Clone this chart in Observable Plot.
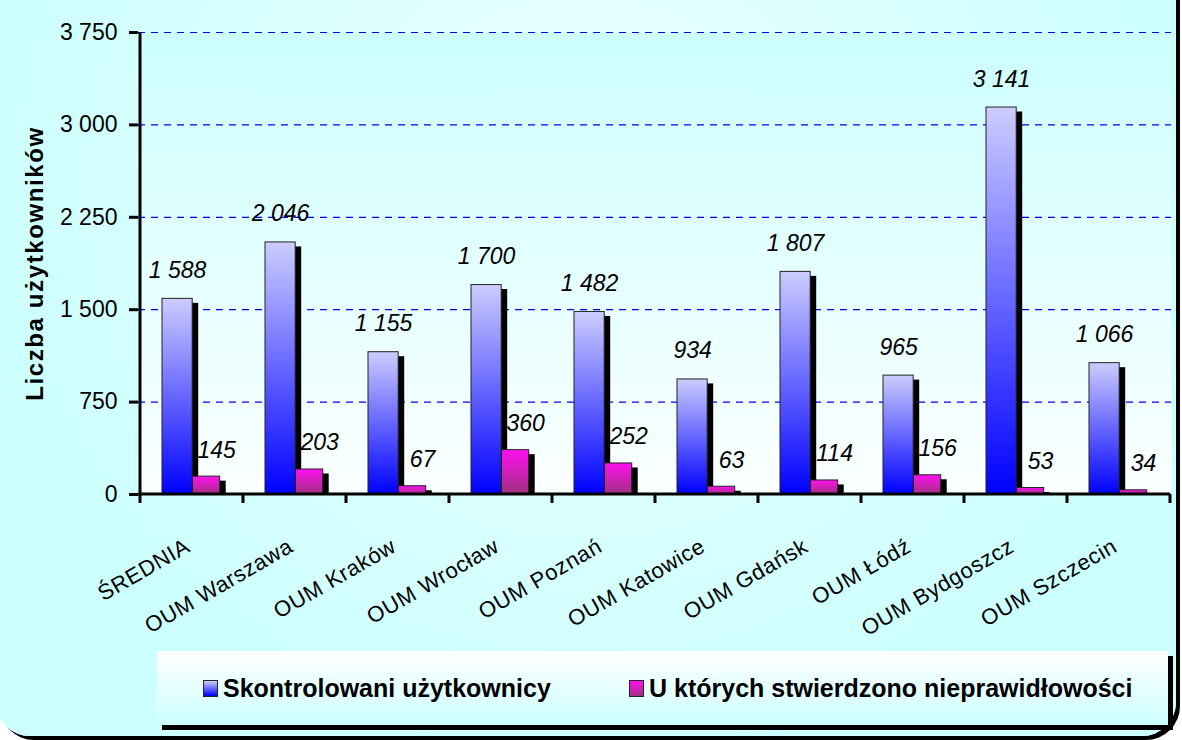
<!DOCTYPE html>
<html>
<head>
<meta charset="utf-8">
<script src="https://cdn.jsdelivr.net/npm/d3@7"></script>
<script src="https://cdn.jsdelivr.net/npm/@observablehq/plot@0.6"></script>
<style>
  body { margin: 0; background: #ffffff; }
  #chart { position: relative; width: 1182px; height: 740px; overflow: hidden; font-family: "Liberation Sans", Arial, sans-serif; }
  #bg { position: absolute; left: -4px; top: -40px; width: 1180px; height: 776px; border-radius: 34px;
        background: radial-gradient(ellipse at 50% 30%, #f0ffff 0%, #d8ffff 45%, #ccffff 75%); box-shadow: 4px 4px 0 #000; }
  #plot { position: absolute; left: 0; top: 0; }
  #legend { position: absolute; left: 157px; top: 651px; width: 1011px; height: 74px;
            background: linear-gradient(#ffffff, #ccffff); box-shadow: 5px 5px 0 #000; }
  .item { position: absolute; top: 0; height: 74px; display: flex; align-items: center;
          font-weight: bold; font-size: 25px; color: #000; white-space: nowrap; }
  .sw { display: inline-block; width: 13px; height: 15px; border: 1px solid #222; margin-right: 5px; flex: none; }
  svg text { fill: #000; }
  g[aria-label="y-axis tick label"] text { font-size: 23px; }
  g[aria-label="x-axis tick label"] text { font-size: 22px; letter-spacing: 0.6px; }
  g[font-weight="bold"] text { letter-spacing: 1.6px; }
</style>
</head>
<body>
<div id="chart">
  <div id="bg"></div>
  <div id="plot"></div>
  <div id="legend"></div>
</div>
<script>
const categories = ["ŚREDNIA", "OUM Warszawa", "OUM Kraków", "OUM Wrocław", "OUM Poznań",
  "OUM Katowice", "OUM Gdańsk", "OUM Łódź", "OUM Bydgoszcz", "OUM Szczecin"];
const controlled = [1588, 2046, 1155, 1700, 1482, 934, 1807, 965, 3141, 1066];
const irregular = [145, 203, 67, 360, 252, 63, 114, 156, 53, 34];
const seriesNames = ["Skontrolowani użytkownicy", "U których stwierdzono nieprawidłowości"];
const yTicks = [0, 750, 1500, 2250, 3000, 3750];
const yTitle = "Liczba użytkowników";

const rows = categories.map((c, i) => ({category: c, controlled: controlled[i], irregular: irregular[i]}));
const fmt = v => d3.format(",")(v).replace(/,/g, " ");

const W = 1182, H = 640, ML = 138, MR = 11, MT = 32, MB = 146;
const bw = (W - ML - MR) / categories.length;
const blueL = 22, blueW = 30.5, magL = 52.5, magW = 27.5;
const blueR = bw - blueL - blueW, magR = bw - magL - magW;
const blueDx = blueL + blueW / 2 - bw / 2;
const magDx = magL + magW / 2 - bw / 2;

const defs = () => {
  const d = d3.create("svg:defs");
  const g1 = d.append("linearGradient").attr("id", "gBlue").attr("x1", 0).attr("y1", 0).attr("x2", 0).attr("y2", 1);
  g1.append("stop").attr("offset", "0%").attr("stop-color", "#ccccff");
  g1.append("stop").attr("offset", "100%").attr("stop-color", "#0000ff");
  const g2 = d.append("linearGradient").attr("id", "gMag").attr("x1", 0).attr("y1", 0).attr("x2", 0).attr("y2", 1);
  g2.append("stop").attr("offset", "0%").attr("stop-color", "#ff10f0");
  g2.append("stop").attr("offset", "100%").attr("stop-color", "#a03080");
  const g3 = d.append("linearGradient").attr("id", "gBg").attr("x1", 0).attr("y1", 0).attr("x2", 0).attr("y2", 1);
  g3.append("stop").attr("offset", "0%").attr("stop-color", "#ccffff");
  g3.append("stop").attr("offset", "100%").attr("stop-color", "#fbffff");
  return d.node();
};

const axisLines = (index, scales, values, dims) => {
  const g = d3.create("svg:g").attr("stroke", "#000").attr("stroke-width", 3);
  const x = scales.x, y = scales.y;
  const band = x.bandwidth ? x.bandwidth() : bw;
  const y0 = y(0);
  const left = x(categories[0]);
  const right = x(categories[categories.length - 1]) + band;
  g.append("line").attr("x1", left).attr("x2", left).attr("y1", y(3750)).attr("y2", y0 + 1.5);
  g.append("line").attr("x1", left - 1.5).attr("x2", right).attr("y1", y0).attr("y2", y0);
  const bounds = categories.map(c => x(c)).concat([right]);
  for (const b of bounds) {
    g.append("line").attr("x1", b).attr("x2", b).attr("y1", y0).attr("y2", y0 + 9);
  }
  return g.node();
};

const chart = Plot.plot({
  width: W, height: H,
  marginLeft: ML, marginRight: MR, marginTop: MT, marginBottom: MB,
  style: {background: "transparent", fontFamily: "'Liberation Sans', Arial, sans-serif", overflow: "visible"},
  x: {domain: categories, padding: 0},
  y: {domain: [0, 3750]},
  marks: [
    defs,
    Plot.frame({fill: "url(#gBg)", stroke: "none"}),
    Plot.ruleY(yTicks.slice(1), {stroke: "#0000ff", strokeWidth: 1.2, strokeDasharray: "7,6"}),
    Plot.barY(rows, {x: "category", y: "controlled", fill: "#000", insetLeft: blueL, insetRight: blueR, insetTop: 4.5, dx: 6}),
    Plot.barY(rows, {x: "category", y: "controlled", fill: "url(#gBlue)", stroke: "#222", strokeWidth: 1, insetLeft: blueL, insetRight: blueR}),
    Plot.barY(rows, {x: "category", y: "irregular", fill: "#000", insetLeft: magL, insetRight: magR, insetTop: 4.5, dx: 6}),
    Plot.barY(rows, {x: "category", y: "irregular", fill: "url(#gMag)", stroke: "#222", strokeWidth: 1, insetLeft: magL, insetRight: magR}),
    axisLines,
    Plot.text(rows, {x: "category", y: "controlled", text: d => fmt(d.controlled), dx: blueDx, dy: -21,
      lineAnchor: "bottom", fontStyle: "italic", fontSize: 23}),
    Plot.text(rows, {x: "category", y: "irregular", text: d => fmt(d.irregular), dx: magDx + 10, dy: -19,
      lineAnchor: "bottom", fontStyle: "italic", fontSize: 23}),
    Plot.axisY({ticks: yTicks, tickFormat: fmt, tickSize: 9, tickPadding: 12, fontSize: 23, strokeWidth: 3, label: null}),
    Plot.axisX({tickSize: 0, tickPadding: 50, tickRotate: -30, fontSize: 22, dx: -4, label: null}),
    Plot.text([yTitle], {frameAnchor: "left", rotate: -90, dx: -103, textAnchor: "middle", fontSize: 24, fontWeight: "bold"})
  ]
});
document.getElementById("plot").appendChild(chart);

const legend = document.getElementById("legend");
const swatches = ["linear-gradient(#ccccff, #0000ff)", "linear-gradient(#ff10f0, #a03080)"];
const lefts = [46, 472];
seriesNames.forEach((name, i) => {
  const it = document.createElement("div");
  it.className = "item";
  it.style.left = lefts[i] + "px";
  const sw = document.createElement("span");
  sw.className = "sw";
  sw.style.background = swatches[i];
  const t = document.createElement("span");
  t.textContent = name;
  it.appendChild(sw); it.appendChild(t);
  legend.appendChild(it);
});
</script>
</body>
</html>
